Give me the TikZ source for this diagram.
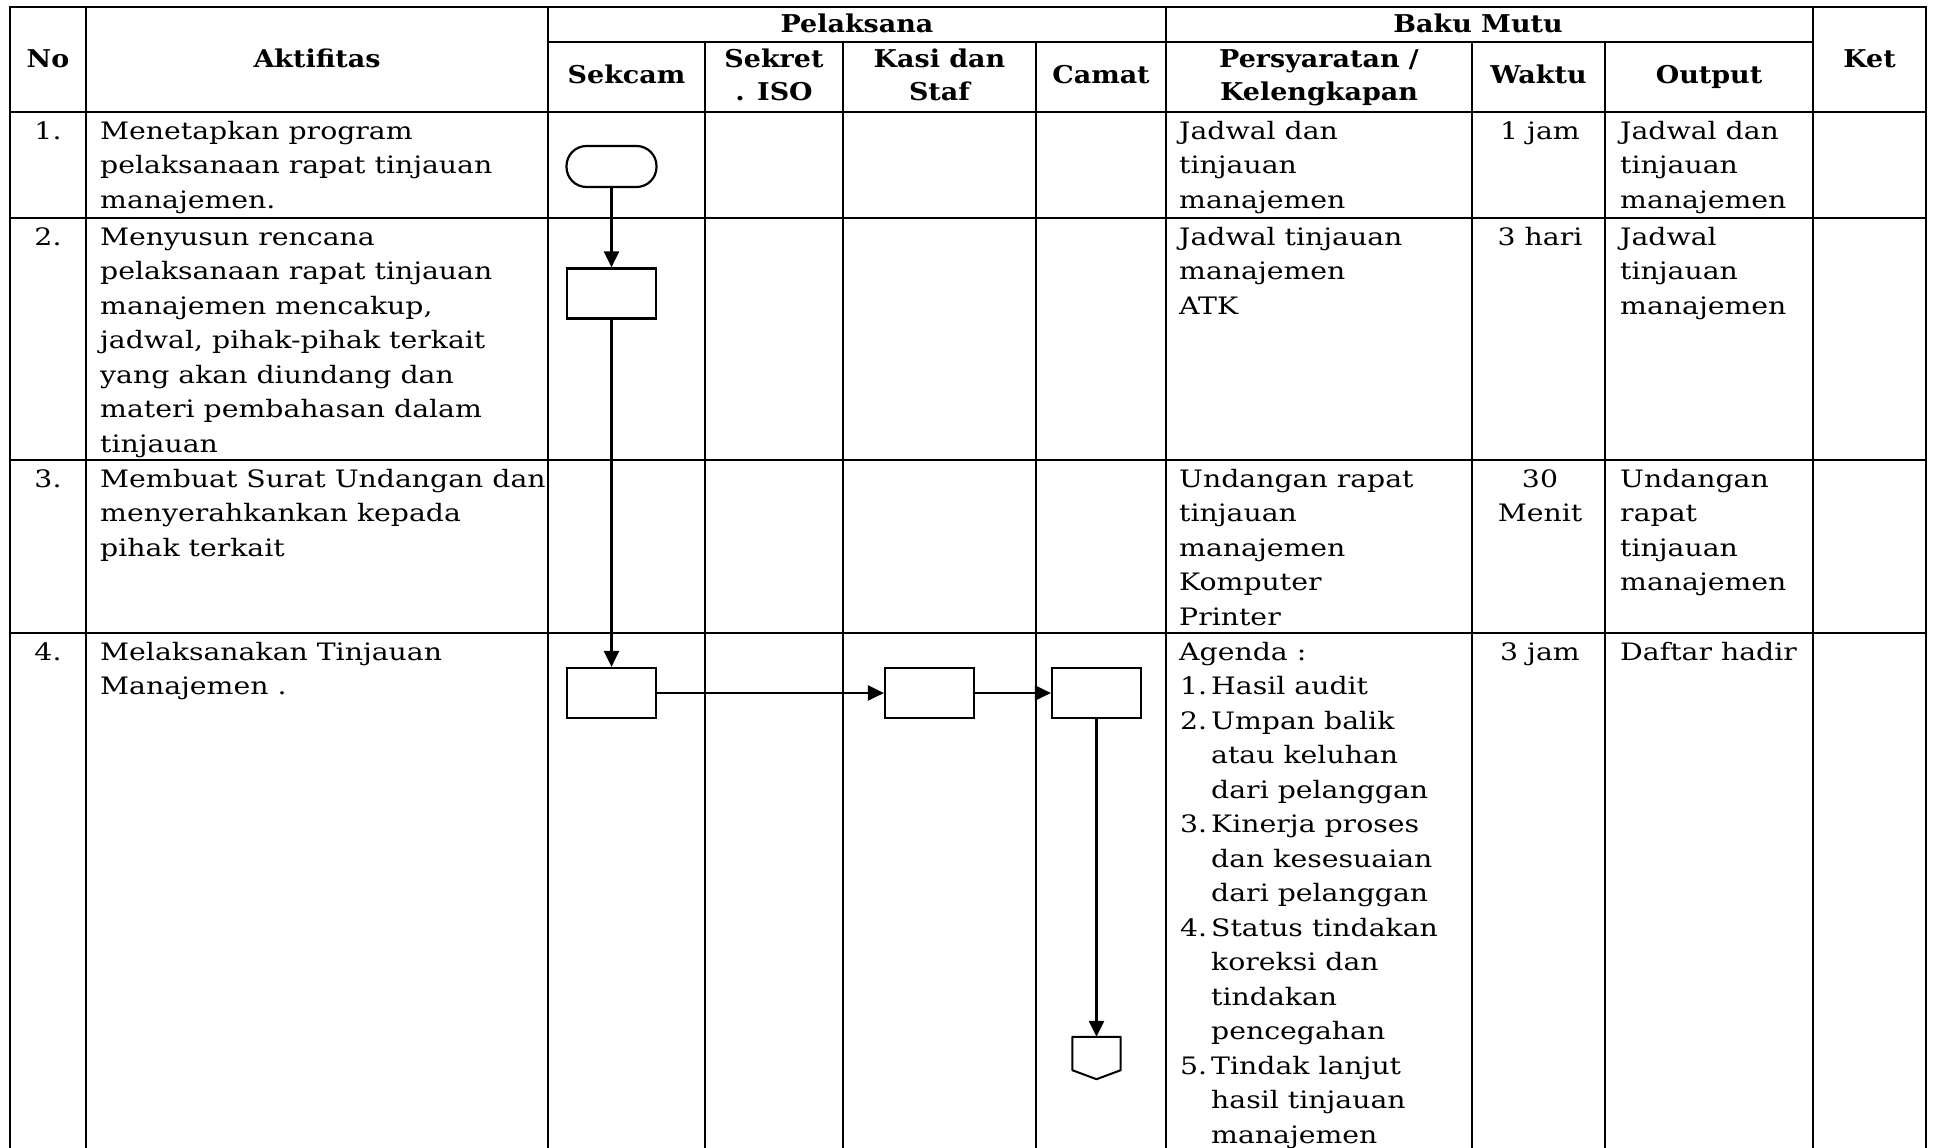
\documentclass[tikz,border=0pt]{standalone}
\usepackage{fontspec}
\setmainfont[FakeStretch=1.18]{DejaVu Serif}
\newfontfamily\hdrfont[FakeStretch=1.1]{DejaVu Serif}
\usetikzlibrary{arrows.meta}

\tikzset{
  gridline/.style={line width=2.8pt, line cap=rect},
  body/.style={font=\fontsize{24}{34.5}\selectfont, inner sep=0pt, anchor=base west},
  bodyc/.style={body, anchor=base},
  hdr/.style={font=\hdrfont\bfseries\fontsize{24.5}{32}\selectfont, inner sep=0pt, anchor=base},
  procbox/.style={draw, line width=2.2pt, minimum width=89pt, minimum height=50pt, inner sep=0pt},
  termbox/.style={procbox, rounded corners=20pt, minimum width=90pt, minimum height=41pt},
  flow/.style={line width=2.5pt, -{Triangle[length=16pt,width=15pt]}},
}

\newcommand\celllines[5]{%
  \foreach \txtline [count=\k from 0] in {#5}{\node[#1] (#4-\k) at (#2, #3+\k*34.5) {\txtline};}}

\begin{document}
\begin{tikzpicture}[x=1pt, y=-1pt]
\useasboundingbox (0,0) rectangle (1933,1148);

% grid
\draw[gridline] (10,7) -- (1926,7);
\foreach \xx in {10,86,548,1166,1813,1926} \draw[gridline] (\xx,7) -- (\xx,1160);
\foreach \xx in {705,843,1036,1472,1605} \draw[gridline] (\xx,42) -- (\xx,1160);
\draw[gridline] (548,42) -- (1813,42);
\foreach \yy in {112,218,460,633} \draw[gridline] (10,\yy) -- (1926,\yy);

% header
\node[hdr] (hNo) at (48,68) {No};
\node[hdr] (hAkt) at (317,68) {Aktifitas};
\node[hdr] (hPel) at (857,33) {Pelaksana};
\node[hdr] (hBaku) at (1478,33) {Baku Mutu};
\node[hdr] (hSekcam) at (626.5,84) {Sekcam};
\node[hdr] (hSekret) at (774,68) {Sekret};
\node[hdr] (hIso) at (774,100) {. ISO};
\node[hdr] (hKasi) at (939.5,68) {Kasi dan};
\node[hdr] (hStaf) at (939.5,100) {Staf};
\node[hdr] (hCamat) at (1101,84) {Camat};
\node[hdr] (hPers) at (1319,68) {Persyaratan /};
\node[hdr] (hKel) at (1319,100) {Kelengkapan};
\node[hdr] (hWaktu) at (1538.5,84) {Waktu};
\node[hdr] (hOut) at (1709,84) {Output};
\node[hdr] (hKet) at (1869.5,68) {Ket};

% row 1
\node[bodyc] (n1) at (48,139) {1.};
\celllines{body}{100}{139}{a1}{Menetapkan program, pelaksanaan rapat tinjauan, manajemen.}
\celllines{body}{1179}{139}{p1}{Jadwal dan, tinjauan, manajemen}
\node[bodyc] (w1) at (1540,139) {1 jam};
\celllines{body}{1620}{139}{o1}{Jadwal dan, tinjauan, manajemen}

% row 2
\node[bodyc] (n2) at (48,245) {2.};
\celllines{body}{100}{245}{a2}{Menyusun rencana, pelaksanaan rapat tinjauan, {manajemen mencakup,}, {jadwal, pihak-pihak terkait}, yang akan diundang dan, materi pembahasan dalam, tinjauan}
\celllines{body}{1179}{245}{p2}{Jadwal tinjauan, manajemen, ATK}
\node[bodyc] (w2) at (1540,245) {3 hari};
\celllines{body}{1620}{245}{o2}{Jadwal, tinjauan, manajemen}

% row 3
\node[bodyc] (n3) at (48,487) {3.};
\celllines{body}{100}{487}{a3}{Membuat Surat Undangan dan, menyerahkankan kepada, pihak terkait}
\celllines{body}{1179}{487}{p3}{Undangan rapat, tinjauan, manajemen, Komputer, Printer}
\celllines{bodyc}{1540}{487}{w3}{30, Menit}
\celllines{body}{1620}{487}{o3}{Undangan, rapat, tinjauan, manajemen}

% row 4
\node[bodyc] (n4) at (48,660) {4.};
\celllines{body}{100}{660}{a4}{Melaksanakan Tinjauan, Manajemen .}
\node[body] (ag) at (1179,660) {Agenda :};
\node[body] (ag1) at (1180,694.5) {1.};
\node[body] (ag2) at (1180,729) {2.};
\node[body] (ag3) at (1180,832.5) {3.};
\node[body] (ag4) at (1180,936) {4.};
\node[body] (ag5) at (1180,1074) {5.};
\celllines{body}{1211}{694.5}{agt}{Hasil audit, Umpan balik, atau keluhan, dari pelanggan, Kinerja proses, dan kesesuaian, dari pelanggan, Status tindakan, koreksi dan, tindakan, pencegahan, Tindak lanjut, hasil tinjauan, manajemen}
\node[bodyc] (w4) at (1540,660) {3 jam};
\node[body] (o4) at (1620,660) {Daftar hadir};

% flow shapes
\node[termbox] (t1) at (611.5,166.5) {};
\node[procbox] (s2) at (611.5,293.5) {};
\node[procbox] (s4a) at (611.5,693) {};
\node[procbox] (s4b) at (929.5,693) {};
\node[procbox] (s4c) at (1096.5,693) {};
\node[minimum width=48pt, minimum height=42pt, inner sep=0pt] (off) at (1096.5,1058) {};
\draw[line width=2pt, line join=round] (off.north west) -- (off.north east) -- ([yshift=9pt]off.south east) -- (off.south) -- ([yshift=9pt]off.south west) -- cycle;

% connectors
\draw[flow] (t1) -- (s2);
\draw[flow] (s2) -- (s4a);
\draw[flow] (s4a) -- (s4b);
\draw[flow] (s4b) -- (s4c);
\draw[flow] (s4c) -- (off);
\end{tikzpicture}
\end{document}
